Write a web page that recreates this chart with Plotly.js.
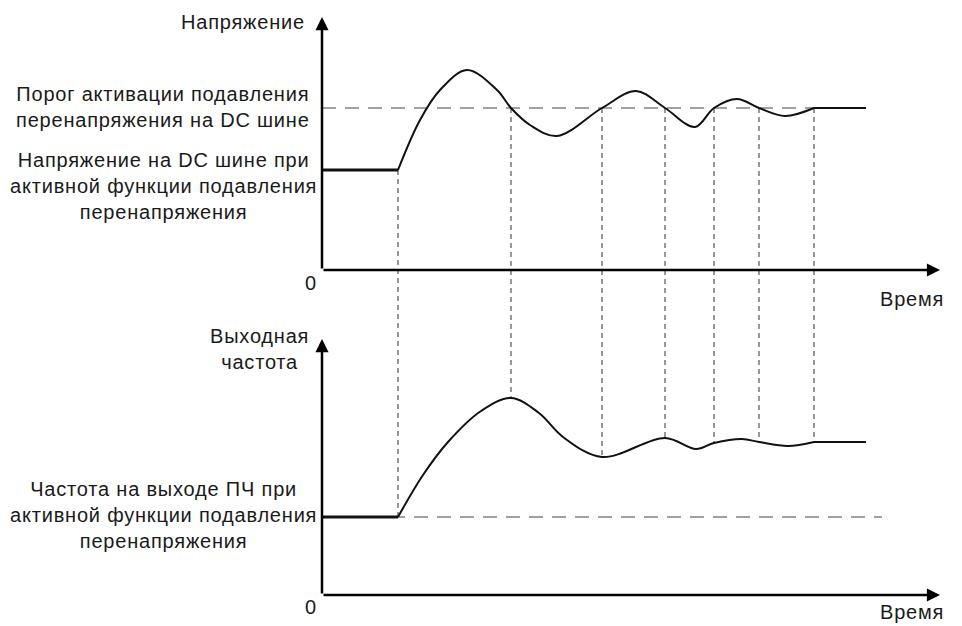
<!DOCTYPE html>
<html>
<head>
<meta charset="utf-8">
<script src="https://cdn.plot.ly/plotly-3.0.1.min.js"></script>
<style>
html,body{margin:0;padding:0;background:#fff;}
#chart{width:962px;height:626px;}
.annotation-text{letter-spacing:0.8px;}
</style>
</head>
<body>
<div id="chart"></div>
<script>
// ---- data (arbitrary schematic units) ----
// Top panel: DC bus voltage
const flatTimeV = [0, 7.6];
const flatVoltage = [10.0, 10.0];
const curveTimeV = [7.6, 9.8, 11.8, 14.5, 17.5, 18.9, 20.8, 23.5, 28.0, 31.4, 34.3, 37.3, 39.2, 41.5, 43.7, 46.3, 49.2];
const curveVoltage = [10.0, 15.0, 18.0, 20.0, 18.0, 16.2, 14.5, 13.4, 16.2, 17.9, 16.2, 14.3, 16.2, 17.1, 16.2, 15.4, 16.2];
const steadyTimeV = [49.2, 54.4];
const steadyVoltage = [16.2, 16.2];
const thresholdLevel = 16.2;
const thresholdSpan = [0, 54.4];

// Bottom panel: output frequency
const flatTimeF = [0, 7.6];
const flatFreq = [7.8, 7.8];
const curveTimeF = [7.6, 10.1, 12.6, 15.9, 18.9, 21.7, 24.1, 28.0, 34.3, 37.4, 39.2, 42.0, 43.7, 46.6, 49.2];
const curveFreq = [7.8, 12.0, 15.3, 18.4, 19.7, 18.2, 15.8, 13.8, 15.7, 14.6, 15.2, 15.6, 15.3, 14.9, 15.3];
const steadyTimeF = [49.2, 54.4];
const steadyFreq = [15.3, 15.3];
const freqRefLevel = 7.8;
const freqRefSpan = [0, 56.0];

// Event times linking both panels
const markTimes = [7.6, 18.9, 28.0, 34.3, 39.2, 43.7, 49.2];

// Axis extents
const timeAxisEnd = 61.8;
const voltageAxisEnd = 25.3;
const freqAxisEnd = 25.6;

// Text
const labelVoltage = 'Напряжение';
const labelFreq = 'Выходная<br>частота';
const labelTime = 'Время';
const labelThreshold = 'Порог активации подавления<br>перенапряжения на DC шине';
const labelBusV = 'Напряжение на DC шине при<br>активной функции подавления<br>перенапряжения';
const labelFreqOut = 'Частота на выходе ПЧ при<br>активной функции подавления<br>перенапряжения';

// ---- scales ----
const xRange = [-32.2, 64.0];
const vRange = [-35.6, 27.0];
const fRange = [-3.1, 59.5];
function freqToV(f) { return vRange[0] + (f - fRange[0]) * (vRange[1] - vRange[0]) / (fRange[1] - fRange[0]); }
function lookup(ts, vs, t) { const i = ts.indexOf(t); return vs[i]; }

const traces = [];
// vertical dashed connectors
const vx = [], vy = [];
markTimes.forEach((t, i) => {
  let top = lookup(curveTimeV, curveVoltage, t);
  if (i > 0) top = thresholdLevel;
  const bot = freqToV(lookup(curveTimeF, curveFreq, t));
  vx.push(t, t, null); vy.push(top, bot, null);
});
traces.push({x: vx, y: vy, mode: 'lines', yaxis: 'y', line: {color: '#555', width: 1.2, dash: '5px,4px'}, hoverinfo: 'skip'});
// horizontal dashed references
traces.push({x: thresholdSpan, y: [thresholdLevel, thresholdLevel], mode: 'lines', yaxis: 'y', line: {color: '#444', width: 1.2, dash: '14px,9px'}});
traces.push({x: freqRefSpan, y: [freqRefLevel, freqRefLevel], mode: 'lines', yaxis: 'y2', line: {color: '#444', width: 1.2, dash: '14px,9px'}});
// voltage
traces.push({x: flatTimeV, y: flatVoltage, mode: 'lines', yaxis: 'y', line: {color: '#111', width: 3}});
traces.push({x: curveTimeV, y: curveVoltage, mode: 'lines', yaxis: 'y', line: {color: '#111', width: 2, shape: 'spline', smoothing: 1}});
traces.push({x: steadyTimeV, y: steadyVoltage, mode: 'lines', yaxis: 'y', line: {color: '#111', width: 2}});
// frequency
traces.push({x: flatTimeF, y: flatFreq, mode: 'lines', yaxis: 'y2', line: {color: '#111', width: 3}});
traces.push({x: curveTimeF, y: curveFreq, mode: 'lines', yaxis: 'y2', line: {color: '#111', width: 2, shape: 'spline', smoothing: 1}});
traces.push({x: steadyTimeF, y: steadyFreq, mode: 'lines', yaxis: 'y2', line: {color: '#111', width: 2}});

const font = {family: 'Liberation Sans, Arial, sans-serif', size: 20, color: '#1a1a1a'};
function arrow(x, y, yref) {
  return {x: x, y: y, ax: 0, ay: 0, xref: 'x', yref: yref, axref: 'x', ayref: yref,
    text: '', showarrow: true, arrowhead: 2, arrowsize: 1.05, arrowwidth: 2.5, arrowcolor: '#000'};
}
function px(x) { return x / 962; }
function py(y) { return 1 - y / 626; }
function label(text, x, y, xanchor) {
  return {text: text, x: px(x), y: py(y), xref: 'paper', yref: 'paper', showarrow: false,
    xanchor: xanchor || 'center', yanchor: 'middle', align: 'center', font: font};
}
const annotations = [
  arrow(0, voltageAxisEnd, 'y'), arrow(timeAxisEnd, 0, 'y'),
  arrow(0, freqAxisEnd, 'y2'), arrow(timeAxisEnd, 0, 'y2'),
  label(labelVoltage, 307, 22, 'right'),
  label(labelThreshold, 163, 107),
  label(labelBusV, 163, 186),
  label('0', 311, 283),
  label(labelTime, 946, 299, 'right'),
  label(labelFreq, 259, 349),
  label(labelFreqOut, 163, 515),
  label('0', 311, 607),
  label(labelTime, 946, 612, 'right')
];

const layout = {
  width: 962, height: 626,
  margin: {l: 0, r: 0, t: 0, b: 0},
  paper_bgcolor: '#fff', plot_bgcolor: '#fff',
  showlegend: false,
  xaxis: {range: xRange, visible: false, domain: [0, 1]},
  yaxis: {range: vRange, visible: false, domain: [0, 1]},
  yaxis2: {range: fRange, visible: false, overlaying: 'y'},
  annotations: annotations,
  font: font
};
Plotly.newPlot('chart', traces, layout, {staticPlot: true, displayModeBar: false});
</script>
</body>
</html>
